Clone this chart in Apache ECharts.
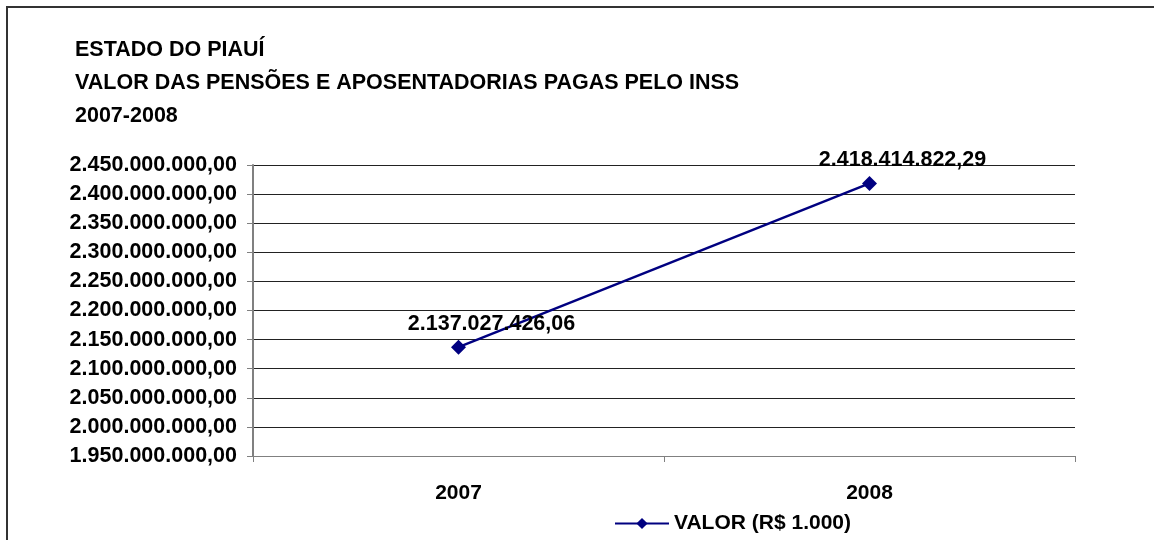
<!DOCTYPE html>
<html>
<head>
<meta charset="utf-8">
<script src="https://cdn.jsdelivr.net/npm/echarts@6/dist/echarts.min.js"></script>
<style>
  html, body { margin: 0; padding: 0; background: #fff; }
  #chart { width: 1154px; height: 540px; }
</style>
</head>
<body>
<div id="chart"></div>
<script>
// dados
var titleLines = ['ESTADO DO PIAUÍ', 'VALOR DAS PENSÕES E APOSENTADORIAS PAGAS PELO INSS', '2007-2008'];
var years = ['2007', '2008'];
var valores = [2137027426.06, 2418414822.29];
var serieNome = 'VALOR (R$ 1.000)';
var yMin = 1950000000, yMax = 2450000000, yStep = 50000000;

// formato brasileiro 1.234,56
function brl(n) {
    var parts = n.toFixed(2).split('.');
    var inteiro = parts[0].replace(/\B(?=(\d{3})+(?!\d))/g, '.');
    return inteiro + ',' + parts[1];
}

var fonte = '"Liberation Sans", Arial, sans-serif';
var chart = echarts.init(document.getElementById('chart'));
var option = {
    backgroundColor: '#fff',
    animation: false,
    title: {
        text: titleLines.join('\n'),
        left: 70,
        top: 29,
        textStyle: {
            fontFamily: fonte,
            fontSize: 21.5,
            fontWeight: 'bold',
            color: '#000',
            lineHeight: 33
        }
    },
    graphic: [{
        type: 'rect',
        shape: { x: 7, y: 7, width: 1300, height: 700 },
        style: { fill: null, stroke: '#333', lineWidth: 2 },
        silent: true
    }],
    legend: {
        left: 609,
        top: 508,
        itemWidth: 54,
        itemHeight: 14,
        itemGap: 5,
        textStyle: { fontFamily: fonte, fontSize: 21, fontWeight: 'bold', color: '#000' },
        data: [serieNome]
    },
    grid: {
        left: 253,
        right: 79,
        top: 165,
        bottom: 84
    },
    xAxis: {
        type: 'category',
        data: years,
        boundaryGap: true,
        axisLine: { lineStyle: { color: '#808080', width: 1 } },
        axisTick: { show: true, length: 6, lineStyle: { color: '#808080' } },
        axisLabel: {
            margin: 27,
            fontFamily: fonte, fontSize: 21, fontWeight: 'bold', color: '#000'
        },
        splitLine: { show: false }
    },
    yAxis: {
        type: 'value',
        min: yMin,
        max: yMax,
        interval: yStep,
        axisLine: { show: true, lineStyle: { color: '#808080', width: 2 } },
        axisTick: { show: true, length: 6, lineStyle: { color: '#808080' } },
        axisLabel: {
            margin: 16,
            fontFamily: fonte, fontSize: 21.5, fontWeight: 'bold', color: '#000',
            formatter: function (v) { return brl(v); }
        },
        splitLine: { show: true, lineStyle: { color: '#222', width: 1 } }
    },
    series: [{
        name: serieNome,
        type: 'line',
        data: valores,
        color: '#000080',
        lineStyle: { color: '#000080', width: 2.5 },
        symbol: 'diamond',
        symbolSize: 15,
        itemStyle: { color: '#000080' },
        label: {
            show: true,
            position: 'top',
            offset: [33, 0],
            fontFamily: fonte, fontSize: 21.5, fontWeight: 'bold', color: '#000',
            formatter: function (p) { return brl(p.value); }
        }
    }]
};
chart.setOption(option);
</script>
</body>
</html>
